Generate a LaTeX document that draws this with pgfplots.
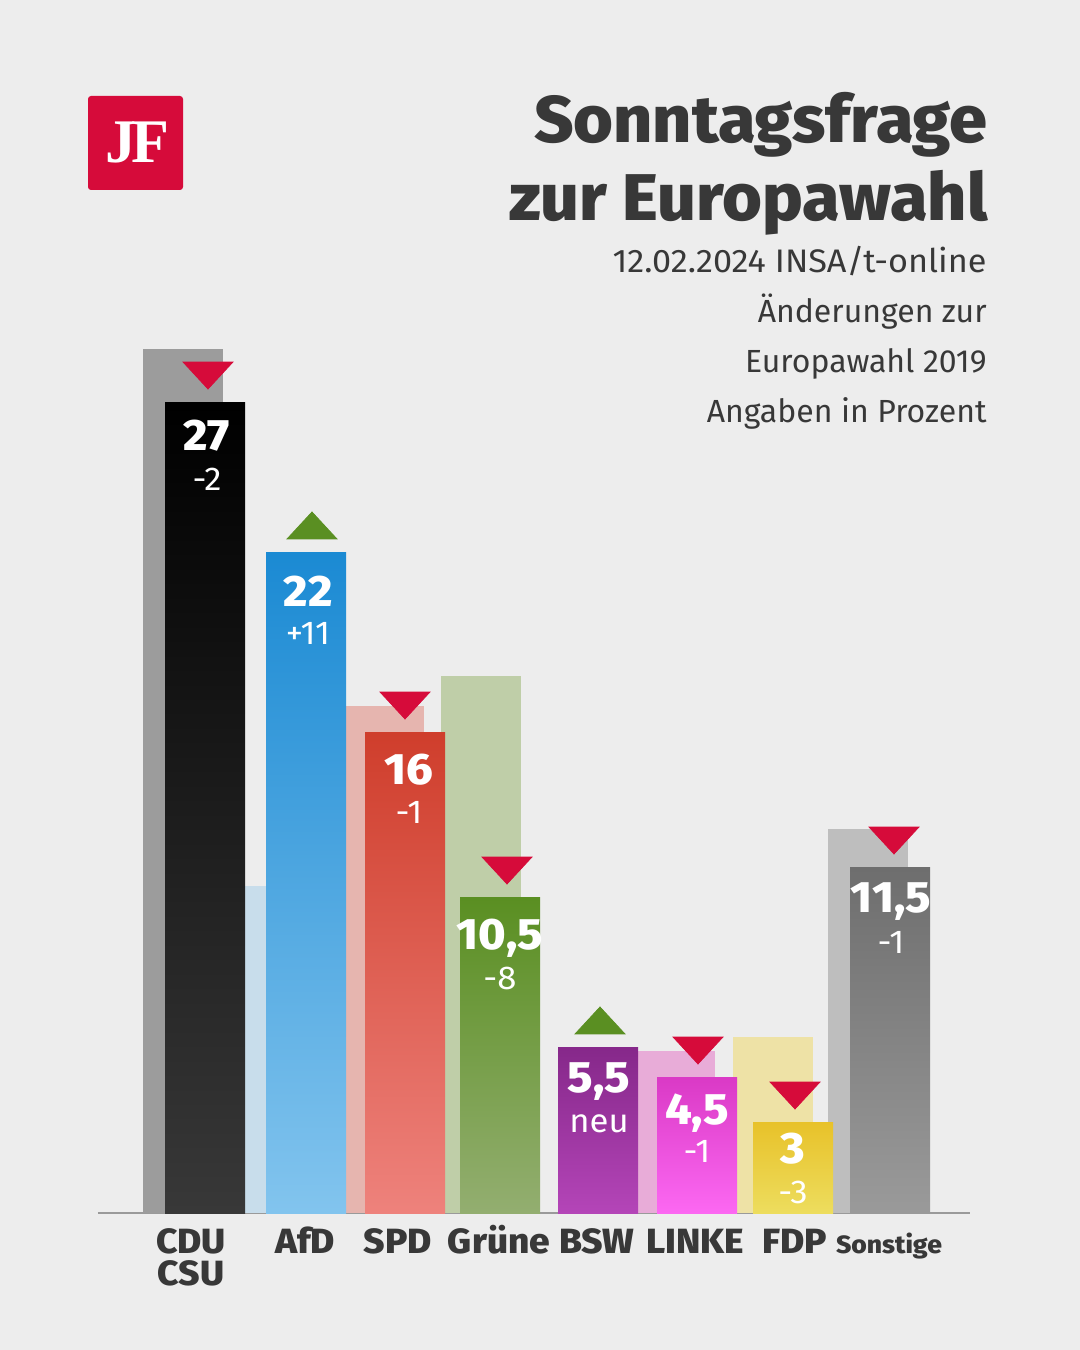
\documentclass[border=0pt]{standalone}
\usepackage{fontspec}
\usepackage{pgfplots}
\pgfplotsset{compat=1.18}
\setmainfont{Fira Sans}
\newfontfamily\heavywide{Fira Sans ExtraBold}[FakeStretch=1.06]
\newfontfamily\titlef{Fira Sans ExtraBold}[FakeStretch=1.035]
\newfontfamily\subf{Fira Sans}[FakeStretch=1.05]
\newfontfamily\serif{Liberation Serif}

\definecolor{bg}{HTML}{EDEDED}
\definecolor{txt}{HTML}{383838}
\definecolor{jfred}{HTML}{D60B3A}
\definecolor{tred}{HTML}{D60B3A}
\definecolor{tgreen}{HTML}{5A8F22}
\definecolor{axgray}{HTML}{9A9A9A}
% previous (2019) bars
\definecolor{pCDU}{HTML}{9C9C9C}
\definecolor{pAfD}{HTML}{C8DDEB}
\definecolor{pSPD}{HTML}{E6B5AF}
\definecolor{pGRU}{HTML}{BFCEA8}
\definecolor{pLIN}{HTML}{E8ACD8}
\definecolor{pFDP}{HTML}{EEE2A6}
\definecolor{pSON}{HTML}{BEBEBE}
% current bars (top / bottom)
\definecolor{tCDU}{HTML}{000000}\definecolor{bCDU}{HTML}{383838}
\definecolor{tAfD}{HTML}{1B8AD3}\definecolor{bAfD}{HTML}{82C4EE}
\definecolor{tSPD}{HTML}{CF3E2C}\definecolor{bSPD}{HTML}{EE827C}
\definecolor{tGRU}{HTML}{5A8F22}\definecolor{bGRU}{HTML}{93AE70}
\definecolor{tBSW}{HTML}{86288A}\definecolor{bBSW}{HTML}{B445B8}
\definecolor{tLIN}{HTML}{DA3AC6}\definecolor{bLIN}{HTML}{FC68F2}
\definecolor{tFDP}{HTML}{E8C22A}\definecolor{bFDP}{HTML}{EDDD5E}
\definecolor{tSON}{HTML}{6E6E6E}\definecolor{bSON}{HTML}{9A9A9A}

\newcommand{\numfont}{\heavywide\fontsize{22}{24}\selectfont}
\newcommand{\chgfont}{\subf\fontsize{16.5}{18}\selectfont}
% x, value, number, change, baseline offset number (pt), baseline offset change (pt)
\newcommand{\vl}[6]{%
  \node[anchor=base, inner sep=0pt, text=white, font=\numfont, yshift=-#5pt] at (axis cs:#1,#2) {#3};
  \node[anchor=base, inner sep=0pt, text=white, font=\chgfont, yshift=-#6pt] at (axis cs:#1,#2) {#4};}

\begin{document}
\begin{tikzpicture}[x=1pt,y=1pt]
\fill[bg] (0,0) rectangle (540,675);
\useasboundingbox (0,0) rectangle (540,675);

% logo
\fill[jfred, rounded corners=1.5pt] (44,580) rectangle (91.5,627);
\node[anchor=base, inner sep=0pt, text=white, font=\serif\bfseries\fontsize{31}{31}\selectfont] at (68.75,593.5) {J\kern-2.5ptF};

% title and subtitle
\node[anchor=base east, inner sep=0pt, text=txt, font=\titlef\fontsize{33}{36}\selectfont] at (494,603.5) {Sonntagsfrage};
\node[anchor=base east, inner sep=0pt, text=txt, font=\titlef\fontsize{33}{36}\selectfont] at (494,564.5) {zur Europawahl};
\node[anchor=base east, inner sep=0pt, text=txt, font=\subf\fontsize{16.3}{18}\selectfont] at (493.5,538.5) {12.02.2024 INSA/t-online};
\node[anchor=base east, inner sep=0pt, text=txt, font=\fontsize{16}{18}\selectfont] at (493.5,513.5) {Änderungen zur};
\node[anchor=base east, inner sep=0pt, text=txt, font=\fontsize{16}{18}\selectfont] at (493.5,488.5) {Europawahl 2019};
\node[anchor=base east, inner sep=0pt, text=txt, font=\fontsize{16}{18}\selectfont] at (493.5,463.5) {Angaben in Prozent};

\begin{axis}[
  at={(49pt,68.5pt)}, anchor=south west,
  scale only axis, width=436pt, height=450pt,
  xmin=98, xmax=970, ymin=0, ymax=30,
  clip=false,
  axis x line*=bottom, axis y line=none,
  x axis line style={draw=axgray, line width=0.8pt, -},
  ytick=\empty,
  xtick={191,305,398,499,597,695,795,889},
  xticklabels={{\begin{tabular}[t]{@{}c@{}}CDU\\[-5pt]CSU\end{tabular}},AfD,SPD,Grüne,BSW,LINKE,FDP,{\fontsize{12.5}{15}\selectfont Sonstige}},
  major tick length=0pt,
  xticklabel style={anchor=base, inner sep=0pt, yshift=-20pt, text=txt, font=\heavywide\fontsize{17.5}{21}\selectfont},
]
% previous values (Europawahl 2019)
\addplot[ybar, bar width=40pt, bar shift=0pt, draw=none, fill=pCDU] coordinates {(183,28.8)};
\addplot[ybar, bar width=40pt, bar shift=0pt, draw=none, fill=pAfD] coordinates {(285,10.9)};
\addplot[ybar, bar width=40pt, bar shift=0pt, draw=none, fill=pSPD] coordinates {(384,16.9)};
\addplot[ybar, bar width=40pt, bar shift=0pt, draw=none, fill=pGRU] coordinates {(481,17.9)};
\addplot[ybar, bar width=40pt, bar shift=0pt, draw=none, fill=pLIN] coordinates {(675,5.4)};
\addplot[ybar, bar width=40pt, bar shift=0pt, draw=none, fill=pFDP] coordinates {(773,5.87)};
\addplot[ybar, bar width=40pt, bar shift=0pt, draw=none, fill=pSON] coordinates {(868,12.8)};
% current values
\addplot[ybar, bar width=40pt, bar shift=0pt, draw=none, top color=tCDU, bottom color=bCDU] coordinates {(205,27)};
\addplot[ybar, bar width=40pt, bar shift=0pt, draw=none, top color=tAfD, bottom color=bAfD] coordinates {(306,22)};
\addplot[ybar, bar width=40pt, bar shift=0pt, draw=none, top color=tSPD, bottom color=bSPD] coordinates {(405,16)};
\addplot[ybar, bar width=40pt, bar shift=0pt, draw=none, top color=tGRU, bottom color=bGRU] coordinates {(500,10.5)};
\addplot[ybar, bar width=40pt, bar shift=0pt, draw=none, top color=tBSW, bottom color=bBSW] coordinates {(598,5.5)};
\addplot[ybar, bar width=40pt, bar shift=0pt, draw=none, top color=tLIN, bottom color=bLIN] coordinates {(697,4.5)};
\addplot[ybar, bar width=40pt, bar shift=0pt, draw=none, top color=tFDP, bottom color=bFDP] coordinates {(793,3)};
\addplot[ybar, bar width=40pt, bar shift=0pt, draw=none, top color=tSON, bottom color=bSON] coordinates {(890,11.5)};
% change markers
\addplot[only marks, mark=triangle*, mark size=14.4pt, color=tred,
  mark options={draw=none, fill=tred, yshift=16pt, yscale=0.624, rotate=180}]
  coordinates {(208,27) (405,16) (507,10.5) (698,4.5) (795,3) (894,11.5)};
\addplot[only marks, mark=triangle*, mark size=14.4pt, color=tgreen,
  mark options={draw=none, fill=tgreen, yshift=11.5pt, yscale=0.624}]
  coordinates {(312,22) (600,5.5)};
% value labels
\vl{207}{27}{27}{-2}{24}{44}
\vl{308}{22}{22}{+11}{27}{46}
\vl{409}{16}{16}{-1}{26}{45.5}
\vl{500}{10.5}{10,5}{-8}{26}{46}
\vl{599}{5.5}{5,5}{neu}{22.5}{42.5}
\vl{697}{4.5}{4,5}{-1}{23}{42.5}
\vl{793}{3}{3}{-3}{20.5}{40}
\vl{891}{11.5}{11,5}{-1}{22.5}{43}
\end{axis}
\end{tikzpicture}
\end{document}
